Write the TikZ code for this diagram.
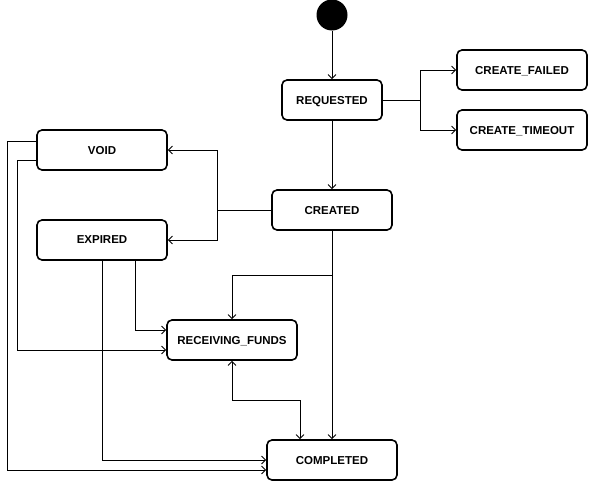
\documentclass[tikz,border=0pt]{standalone}
\usepackage{fontspec}
\setmainfont{Liberation Sans}
\usetikzlibrary{arrows.meta}
\begin{document}
\begin{tikzpicture}[x=1pt,y=-1pt,
  state/.style={draw=black,line width=1.6pt,rounded corners=5pt,minimum height=40pt,minimum width=130pt,inner sep=0pt,text depth=0pt,font=\fontsize{11.5}{13}\selectfont\bfseries},
  conn/.style={line width=0.9pt,-{Straight Barb[length=4pt,width=8pt]}},
  bconn/.style={line width=0.9pt,{Straight Barb[length=4pt,width=8pt]}-{Straight Barb[length=4pt,width=8pt]}}]
\useasboundingbox (0,0) rectangle (589,482);
\node[circle,fill=black,minimum size=31pt,inner sep=0pt] (init) at (332,15) {};
\node[state,minimum width=100pt] (req) at (332,100) {REQUESTED};
\node[state] (cf) at (522,70) {CREATE\_FAILED};
\node[state] (ct) at (522,130) {CREATE\_TIMEOUT};
\node[state,minimum width=120pt] (cr) at (332,210) {CREATED};
\node[state] (void) at (102,150) {VOID};
\node[state] (exp) at (102,240) {EXPIRED};
\node[state] (rf) at (232,340) {RECEIVING\_FUNDS};
\node[state] (comp) at (332,460) {COMPLETED};
\coordinate (bReq) at (420,100);
\coordinate (bCr) at (217,210);
\draw[conn] (init) -- (req);
\draw[line width=0.9pt] (req.east) -- (bReq);
\draw[conn] (bReq) |- (cf.west);
\draw[conn] (bReq) |- (ct.west);
\draw[conn] (req) -- (cr);
\draw[line width=0.9pt] (cr.west) -- (bCr);
\draw[conn] (bCr) |- (void.east);
\draw[conn] (bCr) |- (exp.east);
\draw[conn] (cr.south) -- (comp.north);
\draw[conn] (cr.south) -- (332,275) -| (rf.north);
\draw[conn] (exp.south -| 135,0) |- (rf.west |- 0,330);
\draw[conn] (exp.south) |- (comp.west);
\draw[conn] (void.west |- 0,160) -| (17,350) -- (rf.west |- 0,350);
\draw[conn] (void.west |- 0,141) -| (7,470) -- (comp.west |- 0,470);
\draw[bconn] (rf.south) |- (300,400) -- (comp.north -| 300,0);
\end{tikzpicture}
\end{document}
